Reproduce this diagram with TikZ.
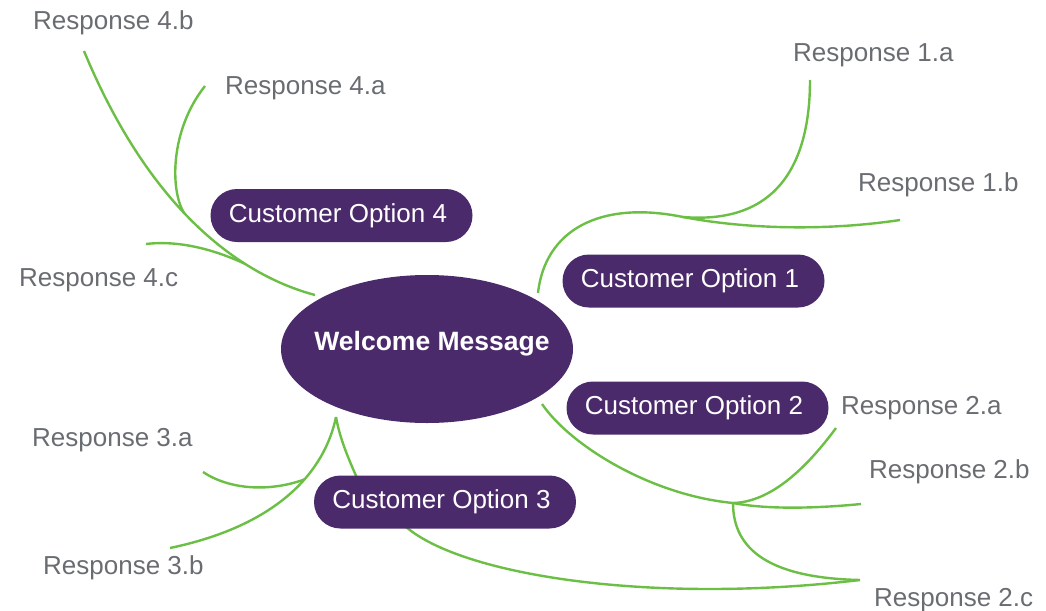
\documentclass[tikz,border=0pt]{standalone}
\usepackage{fontspec}
\setmainfont{Liberation Sans}
\usetikzlibrary{shapes.geometric}
\definecolor{wmpurple}{HTML}{4B2A6B}
\definecolor{wmgreen}{HTML}{6CBF45}
\definecolor{wmgray}{HTML}{696D72}
\pgfdeclarelayer{background}
\pgfsetlayers{background,main}
\newcommand{\pilltext}[1]{#1\kern7pt}
\begin{document}
\begin{tikzpicture}[x=1pt,y=-1pt,
  pill/.style={fill=wmpurple, text=white, rounded corners=26.5pt, minimum width=262pt, minimum height=53pt, inner sep=0pt, font=\fontsize{26}{30}\selectfont},
  resp/.style={text=wmgray, anchor=base west, inner sep=0pt, font=\fontsize{26}{30}\selectfont},
  hub/.style={ellipse, fill=wmpurple, minimum width=292pt, minimum height=148pt, inner sep=0pt},
  hubtext/.style={text=white, anchor=base, inner sep=0pt, font=\fontsize{26.5}{30}\selectfont\bfseries},
  link/.style={draw=wmgreen, line width=2.4pt},
]
\useasboundingbox (0,0) rectangle (1046,610);

% central message
\node[hub] (wm) at (427,349) {};
\node[hubtext] (wmt) at (432,350) {Welcome Message};

% customer options
\node[pill] (o4) at (341.5,215.5) {\pilltext{Customer Option 4}};
\node[pill] (o1) at (693.5,281) {\pilltext{Customer Option 1}};
\node[pill] (o2) at (697.5,408) {\pilltext{Customer Option 2}};
\node[pill] (o3) at (445,502) {\pilltext{Customer Option 3}};

% responses
\node[resp] (r4b) at (33,30) {Response 4.b};
\node[resp] (r4a) at (225,94) {Response 4.a};
\node[resp] (r4c) at (19,286) {Response 4.c};
\node[resp] (r1a) at (793,62) {Response 1.a};
\node[resp] (r1b) at (858,191) {Response 1.b};
\node[resp] (r2a) at (841,414) {Response 2.a};
\node[resp] (r2b) at (869,478) {Response 2.b};
\node[resp] (r2c) at (874,606) {Response 2.c};
\node[resp] (r3a) at (32,446) {Response 3.a};
\node[resp] (r3b) at (43,574) {Response 3.b};

% connector end points and junctions
\coordinate (s4) at (315,295);
\coordinate (j4a) at (184,213);
\coordinate (j4c) at (244.5,263.6);
\coordinate (e4b) at (84,51);
\coordinate (e4a) at (205,86);
\coordinate (e4c) at (146,244);
\coordinate (s1) at (538,293);
\coordinate (j1) at (683,217);
\coordinate (e1a) at (810,80);
\coordinate (e1b) at (900,220);
\coordinate (s2) at (542,404);
\coordinate (j2) at (733,503);
\coordinate (e2a) at (836,428);
\coordinate (e2b) at (861,504);
\coordinate (e2c) at (860,580);
\coordinate (s3) at (336,417);
\coordinate (j3) at (304.5,479.4);
\coordinate (e3a) at (203,472);
\coordinate (e3b) at (170,548);
\coordinate (o3t) at (357,478);
\coordinate (o3b) at (405,526);

\begin{pgfonlayer}{background}
% option 4 branches
\draw[link] (s4) .. controls (240,275) and (150,210) .. (e4b);
\draw[link] (j4a) .. controls (170,190) and (170,130) .. (e4a);
\draw[link] (e4c) .. controls (180,240) and (215,250) .. (j4c);
% option 1 branches
\draw[link] (s1) .. controls (545,230) and (600,200) .. (j1);
\draw[link] (j1) .. controls (780,225) and (810,160) .. (e1a);
\draw[link] (j1) .. controls (740,228) and (820,232) .. (e1b);
% option 2 branches
\draw[link] (s2) .. controls (570,445) and (650,495) .. (j2);
\draw[link] (j2) .. controls (770,502) and (805,470) .. (e2a);
\draw[link] (j2) .. controls (770,510) and (820,508) .. (e2b);
\draw[link] (j2) .. controls (733,550) and (770,578) .. (e2c);
\draw[link] (o3b) .. controls (460,575) and (650,605) .. (e2c);
% option 3 branches
\draw[link] (s3) .. controls (340,440) and (350,462) .. (o3t);
\draw[link] (s3) .. controls (325,470) and (280,525) .. (e3b);
\draw[link] (e3a) .. controls (230,490) and (270,492) .. (j3);
\end{pgfonlayer}
\end{tikzpicture}
\end{document}
